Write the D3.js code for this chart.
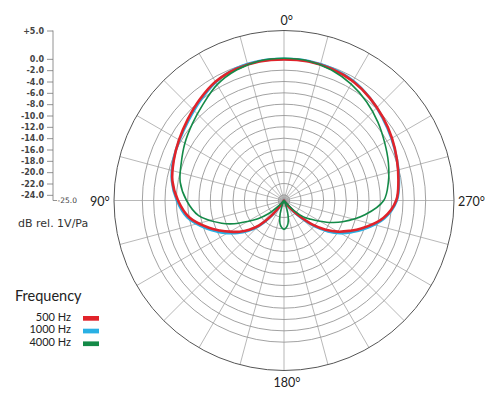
<!DOCTYPE html>
<html>
<head>
<meta charset="utf-8">
<title>Polar Pattern</title>
<script src="https://cdn.jsdelivr.net/npm/d3@7"></script>
<style>
  body { margin: 0; background: #fff; }
  .axis text { font: bold 8px "DejaVu Sans", sans-serif; fill: #444; }
  .axis path, .axis line { stroke: #777; stroke-width: 0.8; }
  .deg { font: 12.5px Lato, sans-serif; fill: #222; }
  .legend text { font: 11px Lato, sans-serif; fill: #222; }
</style>
</head>
<body>
<svg id="chart" width="500" height="403"></svg>
<script>
  // angles in degrees, 0 on top, 90 on the left, 270 on the right
  var angles = [0,10,20,30,40,50,60,70,80,90,100,
    110,115,120,125,130,135,140,145,150,155,160,165,170,175,180,
    185,190,195,200,205,210,215,220,225,230,235,240,245,250,
    260,270,280,290,300,310,320,330,340,350];

  // dB rel. 1V/Pa (normalised); values under -25 fall into the centre
  var hz500 = [-0.1,-0.1,-0.3,-0.8,-1.8,-2.8,-3.6,-4.3,-5.0,-6.3,-8.0,
    -10.9,-12.5,-14.0,-15.4,-17.0,-18.8,-21.4,-24.2,-27,-30,-30,-30,-30,-30,-30,
    -30,-30,-30,-30,-30,-27.5,-24.8,-23.0,-21.0,-18.3,-16.0,-14.0,-12.3,-10.5,
    -7.2,-5.2,-4.5,-3.8,-3.0,-2.2,-1.4,-0.7,-0.3,-0.1];
  var hz1000 = [0.0,0.0,-0.2,-0.9,-2.0,-3.0,-3.7,-4.2,-4.9,-6.1,-7.7,
    -10.5,-12.0,-13.5,-15.0,-16.6,-18.5,-21.0,-24.0,-27,-30,-30,-30,-30,-30,-30,
    -30,-30,-30,-30,-30,-27.5,-24.6,-22.6,-20.6,-17.9,-15.5,-13.5,-11.8,-10.1,
    -7.0,-5.1,-4.4,-3.8,-3.1,-2.3,-1.4,-0.6,-0.2,0.0];
  var hz4000 = [0.1,0.0,-0.5,-1.4,-2.8,-3.9,-4.8,-5.7,-6.4,-7.8,-9.7,
    -13.3,-15.3,-17.6,-19.4,-21.3,-23.8,-27,-30,-30,-25.5,-23.8,-22.2,-20.9,-20.2,-19.9,
    -20.2,-20.9,-22.2,-23.8,-25.5,-30,-30,-25.5,-22.5,-20.5,-19.2,-17.7,-15.8,-14.0,
    -10.5,-7.4,-6.3,-5.4,-4.5,-3.4,-2.3,-1.3,-0.5,0.0];

  var seriesNames = ["500 Hz", "1000 Hz", "4000 Hz"];
  var seriesColors = ["#e1232a", "#29b0e4", "#148a48"];
  var ringValues = [0,-2,-4,-6,-8,-10,-12,-14,-16,-18,-20,-22,-24];
  var axisTicks = [5,0,-2,-4,-6,-8,-10,-12,-14,-16,-18,-20,-22,-24];
  var spokeAngles = d3.range(0, 360, 15);

  var cx = 284, cy = 200.5, R = 170;
  var r = d3.scaleLinear().domain([-25, 5]).range([0, R]);

  var svg = d3.select("#chart");
  var g = svg.append("g").attr("transform", "translate(" + cx + "," + cy + ")");

  // grid rings
  g.selectAll(".ring").data(ringValues).enter().append("circle")
    .attr("r", function(d) { return r(d); })
    .style("fill", function(d) { return d === -24 ? "#d4d4d4" : "none"; })
    .style("stroke", "#8a8a8a")
    .style("stroke-width", 0.8);

  // spokes
  g.selectAll(".spoke").data(spokeAngles).enter().append("line")
    .attr("x1", 0).attr("y1", 0)
    .attr("x2", function(d) { return R * Math.sin(d * Math.PI / 180); })
    .attr("y2", function(d) { return -R * Math.cos(d * Math.PI / 180); })
    .style("stroke", "#9a9a9a")
    .style("stroke-width", 0.7);

  g.append("circle").attr("r", r(5))
    .style("fill", "none").style("stroke", "#555").style("stroke-width", 1);

  // curves
  var line = d3.lineRadial()
    .angle(function(d) { return -d.a * Math.PI / 180; })
    .radius(function(d) { return r(Math.max(d.v, -25)); })
    .curve(d3.curveCatmullRomClosed.alpha(0.5));

  var series = [hz1000, hz500, hz4000];
  var order = [1, 0, 2];
  var widths = [2.6, 2.6, 1.6];
  series.forEach(function(vals, i) {
    var pts = angles.map(function(a, j) { return {a: a, v: vals[j]}; });
    g.append("path")
      .attr("d", line(pts))
      .style("fill", "none")
      .style("stroke", seriesColors[order[i]])
      .style("stroke-width", widths[i])
      .style("stroke-linejoin", "round");
  });

  // degree labels
  var degLabels = [
    {t: "0°", x: 280.5, y: 25},
    {t: "90°", x: 90, y: 205.5},
    {t: "270°", x: 458, y: 205.5},
    {t: "180°", x: 273.5, y: 387}
  ];
  svg.selectAll(".deg").data(degLabels).enter().append("text")
    .attr("class", "deg")
    .attr("x", function(d) { return d.x; })
    .attr("y", function(d) { return d.y; })
    .text(function(d) { return d.t; });

  // dB axis
  var y = d3.scaleLinear().domain([-25, 5]).range([cy, cy - R]);
  var axis = svg.append("g").attr("class", "axis")
    .attr("transform", "translate(53,0)")
    .call(d3.axisLeft(y).tickValues(axisTicks).tickSize(6).tickPadding(3)
      .tickFormat(function(d) { return (d > 0 ? "+" : "") + d.toFixed(1); }));
  axis.select(".domain").attr("d", "M0," + y(5) + "V" + y(-25) + "H4");
  axis.append("text").attr("x", 4.5).attr("y", y(-25) + 2.8)
    .attr("text-anchor", "start")
    .style("font-weight", "normal").style("font-size", "7.5px")
    .text("-25.0");

  svg.append("text").attr("x", 18).attr("y", 227)
    .style("font", "11px 'DejaVu Sans', sans-serif").style("fill", "#333")
    .text("dB rel. 1V/Pa");

  // legend
  var legend = svg.append("g").attr("class", "legend");
  legend.append("text").attr("x", 15).attr("y", 301)
    .style("font-size", "14.5px").text("Frequency");
  var items = legend.selectAll(".item").data(seriesNames).enter().append("g")
    .attr("transform", function(d, i) { return "translate(0," + (320.7 + i * 12.7) + ")"; });
  items.append("text").attr("x", 71).attr("text-anchor", "end").text(function(d) { return d; });
  items.append("rect").attr("x", 83).attr("y", -4.7).attr("width", 16).attr("height", 4.7)
    .style("fill", function(d, i) { return seriesColors[i]; });
</script>
</body>
</html>
